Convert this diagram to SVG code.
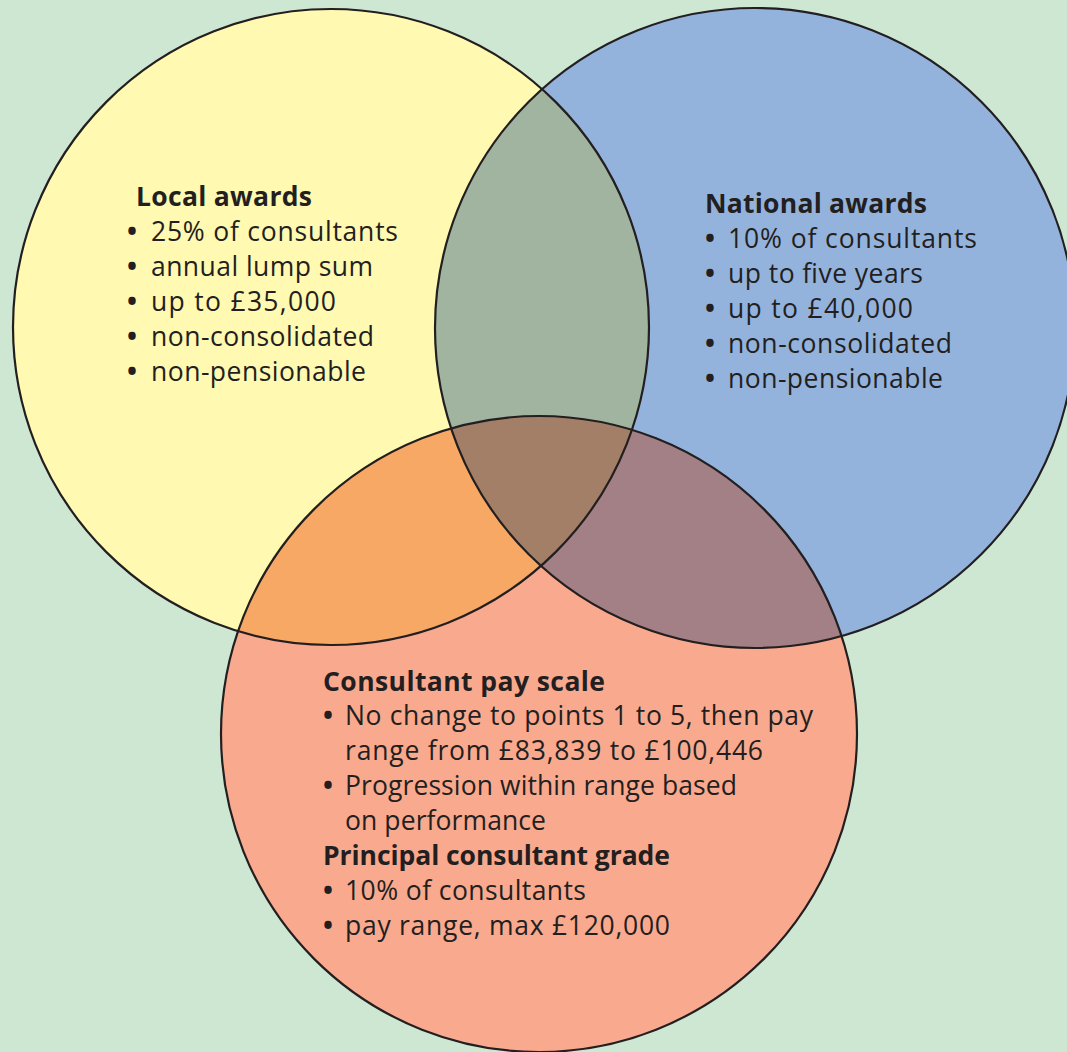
<svg xmlns="http://www.w3.org/2000/svg" width="1067" height="1052" viewBox="0 0 1067 1052">
<style>
.t{font-family:"Open Sans","Liberation Sans",sans-serif;font-size:26.5px;fill:#231f20}
.h{font-weight:bold}
.b{font-weight:bold}
.ol{fill:none;stroke:#231f20;stroke-width:2.2}
</style>
<defs>
<clipPath id="cY"><circle cx="331" cy="327" r="318"/></clipPath>
<clipPath id="cB"><circle cx="755" cy="328" r="320"/></clipPath>
</defs>
<rect width="1067" height="1052" fill="#cde7d3"/>
<g id="local">
<circle cx="331" cy="327" r="318" fill="#fff9b1"/>
</g>
<g id="national">
<circle cx="755" cy="328" r="320" fill="#93b3dd"/>
</g>
<g id="consultant">
<circle cx="539" cy="734" r="318" fill="#f9a98e"/>
</g>
<g id="overlaps">
<circle cx="755" cy="328" r="320" fill="#a0b4a0" clip-path="url(#cY)"/>
<circle cx="539" cy="734" r="318" fill="#f7a865" clip-path="url(#cY)"/>
<circle cx="539" cy="734" r="318" fill="#a38086" clip-path="url(#cB)"/>
<g clip-path="url(#cB)"><circle cx="539" cy="734" r="318" fill="#a37f67" clip-path="url(#cY)"/></g>
</g>
<g id="outlines">
<circle class="ol" cx="331" cy="327" r="318"/>
<circle class="ol" cx="755" cy="328" r="320"/>
<circle class="ol" cx="539" cy="734" r="318"/>
</g>
<g id="local-text">
<text class="t h" x="136" y="206" textLength="176">Local awards</text>
<text class="t" y="241"><tspan class="b" x="127">•</tspan><tspan x="151" textLength="247">25% of consultants</tspan></text>
<text class="t" y="276"><tspan class="b" x="127">•</tspan><tspan x="151" textLength="222">annual lump sum</tspan></text>
<text class="t" y="311"><tspan class="b" x="127">•</tspan><tspan x="151" textLength="185">up to £35,000</tspan></text>
<text class="t" y="346"><tspan class="b" x="127">•</tspan><tspan x="151" textLength="223">non-consolidated</tspan></text>
<text class="t" y="381"><tspan class="b" x="127">•</tspan><tspan x="151" textLength="215">non-pensionable</tspan></text>
</g>
<g id="national-text">
<text class="t h" x="705" y="213" textLength="222">National awards</text>
<text class="t" y="248"><tspan class="b" x="705">•</tspan><tspan x="728" textLength="249">10% of consultants</tspan></text>
<text class="t" y="283"><tspan class="b" x="705">•</tspan><tspan x="728" textLength="195">up to five years</tspan></text>
<text class="t" y="318"><tspan class="b" x="705">•</tspan><tspan x="728" textLength="185">up to £40,000</tspan></text>
<text class="t" y="353"><tspan class="b" x="705">•</tspan><tspan x="728" textLength="224">non-consolidated</tspan></text>
<text class="t" y="388"><tspan class="b" x="705">•</tspan><tspan x="728" textLength="215">non-pensionable</tspan></text>
</g>
<g id="consultant-text">
<text class="t h" x="323" y="691" textLength="282">Consultant pay scale</text>
<text class="t" y="725"><tspan class="b" x="323">•</tspan><tspan x="345" textLength="468">No change to points 1 to 5, then pay</tspan></text>
<text class="t" x="345" y="760" textLength="418">range from £83,839 to £100,446</text>
<text class="t" y="795"><tspan class="b" x="323">•</tspan><tspan x="345" textLength="392">Progression within range based</tspan></text>
<text class="t" x="345" y="830" textLength="201">on performance</text>
<text class="t h" x="323" y="865" textLength="347">Principal consultant grade</text>
<text class="t" y="900"><tspan class="b" x="323">•</tspan><tspan x="345" textLength="241">10% of consultants</tspan></text>
<text class="t" y="935"><tspan class="b" x="323">•</tspan><tspan x="345" textLength="325">pay range, max £120,000</tspan></text>
</g>
</svg>
